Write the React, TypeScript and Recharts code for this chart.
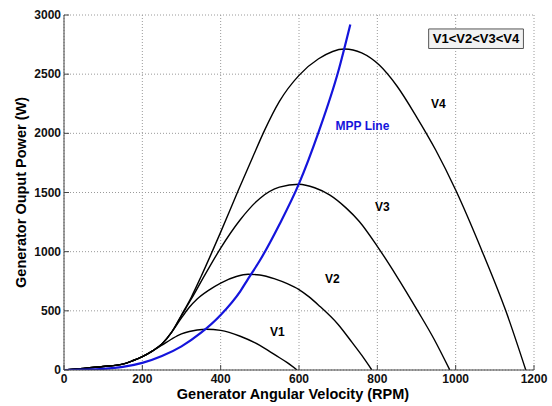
import React from 'react';
import {
  LineChart,
  Line,
  XAxis,
  YAxis,
  CartesianGrid,
  ReferenceDot,
  ReferenceArea,
  Label,
} from 'recharts';

const FONT = '"Liberation Sans", Arial, Helvetica, sans-serif';
const AXIS = '#444';

const xTicks = [0, 200, 400, 600, 800, 1000, 1200];
const yTicks = [0, 500, 1000, 1500, 2000, 2500, 3000];

const rpmV1 = [0, 50, 100, 150, 175, 200, 225, 250, 275, 300, 320, 340, 363, 400, 450, 500, 540, 570, 595];
const powV1 = [0, 14, 30, 50, 78, 113, 158, 210, 262, 305, 325, 338, 345, 335, 285, 208, 125, 62, 0];

const rpmV2 = [0, 50, 100, 150, 175, 200, 225, 250, 275, 300, 320, 340, 370, 400, 440, 470, 500, 540, 570, 600, 625, 650, 700, 735, 760, 786];
const powV2 = [0, 14, 30, 50, 78, 113, 160, 220, 320, 440, 530, 600, 675, 735, 790, 809, 803, 768, 730, 680, 620, 548, 385, 235, 125, 0];

const rpmV3 = [0, 50, 100, 150, 175, 200, 225, 250, 275, 300, 325, 359, 380, 400, 450, 500, 550, 600, 640, 678, 720, 754, 800, 850, 903, 945, 985];
const powV3 = [0, 14, 30, 50, 78, 113, 160, 220, 320, 460, 600, 800, 920, 1030, 1270, 1450, 1545, 1570, 1540, 1480, 1370, 1255, 1045, 790, 500, 260, 0];

const rpmV4 = [0, 50, 100, 150, 175, 200, 225, 250, 275, 300, 325, 350, 375, 400, 444, 482, 512, 550, 600, 650, 716, 760, 805, 850, 900, 949, 1000, 1068, 1128, 1179];
const powV4 = [0, 14, 30, 50, 78, 113, 160, 220, 320, 465, 615, 790, 975, 1165, 1510, 1800, 2025, 2270, 2490, 2630, 2713, 2680, 2577, 2400, 2140, 1859, 1521, 1000, 500, 0];

const rpmMpp = [0, 50, 100, 150, 200, 250, 300, 350, 400, 450, 470, 500, 550, 600, 650, 700, 731];
const powMpp = [0, 3, 10, 26, 60, 118, 200, 315, 465, 665, 770, 925, 1230, 1575, 2010, 2520, 2920];

const curveLabels = [
  { text: 'V4', x: 956, y: 2248, color: '#000' },
  { text: 'MPP Line', x: 762, y: 2064, color: '#1414dc' },
  { text: 'V3', x: 813, y: 1380, color: '#000' },
  { text: 'V2', x: 685, y: 769, color: '#000' },
  { text: 'V1', x: 545, y: 321, color: '#000' },
];

const legendText = 'V1<V2<V3<V4';
const legendBox = { x1: 931, x2: 1173, y1: 2717, y2: 2882 };

const toPoints = (xs: number[], ys: number[]) => xs.map((x, i) => ({ x, y: ys[i] }));

const dataV1 = toPoints(rpmV1, powV1);
const dataV2 = toPoints(rpmV2, powV2);
const dataV3 = toPoints(rpmV3, powV3);
const dataV4 = toPoints(rpmV4, powV4);
const dataMpp = toPoints(rpmMpp, powMpp);

const tickText = {
  fontSize: 12,
  fontWeight: 'bold' as const,
  fontFamily: FONT,
  fill: '#111',
};

const BottomTick = (props: any) => {
  const { x, y, payload } = props;
  return (
    <g>
      <line x1={x} y1={y} x2={x} y2={y - 5} stroke={AXIS} />
      <text x={x} y={y + 13} textAnchor="middle" {...tickText}>
        {payload.value}
      </text>
    </g>
  );
};

const LeftTick = (props: any) => {
  const { x, y, payload } = props;
  return (
    <g>
      <line x1={x} y1={y} x2={x + 5} y2={y} stroke={AXIS} />
      <text x={x - 3} y={y + 4} textAnchor="end" {...tickText}>
        {payload.value}
      </text>
    </g>
  );
};

const TopTick = (props: any) => {
  const { x, y } = props;
  return <line x1={x} y1={y} x2={x} y2={y + 5} stroke={AXIS} />;
};

const RightTick = (props: any) => {
  const { x, y } = props;
  return <line x1={x} y1={y} x2={x - 5} y2={y} stroke={AXIS} />;
};

const YTitle = (p: any) => {
  const vb = p.viewBox || { x: 0, y: 15, width: 64, height: 355 };
  const cx = vb.x + 26;
  const cy = vb.y + vb.height / 2;
  return (
    <text
      x={0}
      y={0}
      transform={`translate(${cx}, ${cy}) rotate(-90)`}
      textAnchor="middle"
      fontSize={14.5}
      fontWeight="bold"
      fontFamily={FONT}
      fill="#000"
    >
      Generator Ouput Power (W)
    </text>
  );
};

export default function App() {
  return (
    <div style={{ position: 'absolute', left: 0, top: 0, background: '#fff' }}>
      <LineChart width={552} height={406} margin={{ top: 15, right: 18, bottom: 0, left: 0 }}>
        <CartesianGrid xAxisId="b" yAxisId="l" stroke="#9a9a9a" strokeDasharray="1 2" />
        <XAxis
          xAxisId="b"
          dataKey="x"
          type="number"
          domain={[0, 1200]}
          ticks={xTicks}
          interval={0}
          allowDataOverflow
          height={36}
          tickSize={0}
          tickMargin={0}
          tick={<BottomTick />}
          axisLine={{ stroke: AXIS }}
          tickLine={false}
        >
          <Label
            value="Generator Angular Velocity (RPM)"
            position="insideBottom"
            offset={7}
            dx={-6}
            fontSize={14.5}
            fontWeight="bold"
            fontFamily={FONT}
            fill="#000"
          />
        </XAxis>
        <XAxis
          xAxisId="t"
          orientation="top"
          dataKey="x"
          type="number"
          domain={[0, 1200]}
          ticks={xTicks}
          interval={0}
          allowDataOverflow
          height={0}
          tickSize={0}
          tickMargin={0}
          tick={<TopTick />}
          axisLine={{ stroke: AXIS }}
          tickLine={false}
        />
        <YAxis
          yAxisId="l"
          dataKey="y"
          type="number"
          domain={[0, 3000]}
          ticks={yTicks}
          interval={0}
          allowDataOverflow
          width={64}
          tickSize={0}
          tickMargin={0}
          tick={<LeftTick />}
          axisLine={{ stroke: AXIS }}
          tickLine={false}
          label={{ content: (p: any) => <YTitle {...p} /> }}
        />
        <YAxis
          yAxisId="r"
          orientation="right"
          dataKey="y"
          type="number"
          domain={[0, 3000]}
          ticks={yTicks}
          interval={0}
          allowDataOverflow
          width={0}
          tickSize={0}
          tickMargin={0}
          tick={<RightTick />}
          axisLine={{ stroke: AXIS }}
          tickLine={false}
        />
        <Line xAxisId="b" yAxisId="l" data={dataV1} dataKey="y" type="monotone" stroke="#000" strokeWidth={1.4} dot={false} activeDot={false} isAnimationActive={false} />
        <Line xAxisId="b" yAxisId="l" data={dataV2} dataKey="y" type="monotone" stroke="#000" strokeWidth={1.4} dot={false} activeDot={false} isAnimationActive={false} />
        <Line xAxisId="b" yAxisId="l" data={dataV3} dataKey="y" type="monotone" stroke="#000" strokeWidth={1.4} dot={false} activeDot={false} isAnimationActive={false} />
        <Line xAxisId="b" yAxisId="l" data={dataV4} dataKey="y" type="monotone" stroke="#000" strokeWidth={1.4} dot={false} activeDot={false} isAnimationActive={false} />
        <Line xAxisId="b" yAxisId="l" data={dataMpp} dataKey="y" type="monotone" stroke="#1414dc" strokeWidth={2.2} dot={false} activeDot={false} isAnimationActive={false} />
        <ReferenceArea
          xAxisId="b"
          yAxisId="l"
          x1={legendBox.x1}
          x2={legendBox.x2}
          y1={legendBox.y1}
          y2={legendBox.y2}
          fill="#f2f2f2"
          fillOpacity={1}
          stroke="#555"
          strokeWidth={1}
          label={
            <Label
              value={legendText}
              position="center"
              fontSize={13}
              fontWeight="bold"
              fontFamily={FONT}
              fill="#000"
            />
          }
        />
        {curveLabels.map((c) => (
          <ReferenceDot
            key={c.text}
            xAxisId="b"
            yAxisId="l"
            x={c.x}
            y={c.y}
            r={0}
            shape={(p: any) => (
              <text
                x={p.cx}
                y={p.cy + 4}
                textAnchor="middle"
                fontSize={12}
                fontWeight="bold"
                fontFamily={FONT}
                fill={c.color}
              >
                {c.text}
              </text>
            )}
          />
        ))}
      </LineChart>
    </div>
  );
}
